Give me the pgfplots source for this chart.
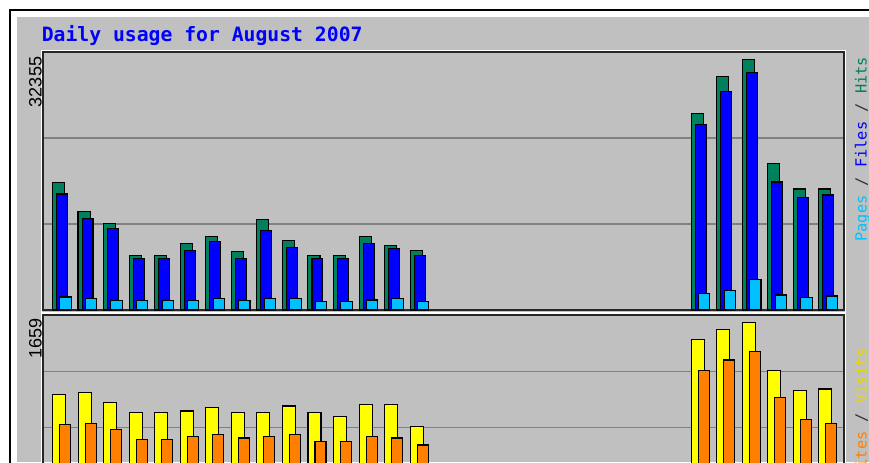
\documentclass[border=0pt]{standalone}
\usepackage{pgfplots}
\pgfplotsset{compat=1.18}
\usepackage{pgfplotstable}
\usepackage{fontspec}
\newfontfamily\monofont{DejaVu Sans Mono}
\newfontfamily\labfont{Liberation Sans}
\definecolor{bggrey}{HTML}{C0C0C0}
\definecolor{gridgrey}{HTML}{808080}
\definecolor{hitsc}{HTML}{00805C}
\definecolor{filesc}{HTML}{0000FF}
\definecolor{pagesc}{HTML}{00C0FF}
\definecolor{visitsc}{HTML}{FFFF00}
\definecolor{sitesc}{HTML}{FF8000}
\definecolor{visitstxt}{HTML}{E8D800}
\definecolor{septxt}{HTML}{303030}

\pgfplotstableread{
day hits files pages visits sites
1 16470 14970 1680 923 610
2 12770 11860 1460 943 627
3 11220 10570 1250 836 559
4 7030 6600 1250 733 453
5 7030 6600 1250 733 453
6 8630 7720 1250 751 490
7 9450 8800 1460 785 507
8 7505 6600 1250 733 473
9 11650 10310 1510 733 490
10 9020 8110 1460 802 507
11 7030 6600 1080 733 435
12 7030 6600 1080 696 435
13 9450 8580 1290 820 490
14 8370 7890 1460 820 473
15 7720 7030 1080 593 401
26 25320 23940 2160 1484 1172
27 30150 28210 2460 1591 1275
28 32355 30630 3970 1659 1361
29 18890 16520 1940 1169 892
30 15620 14530 1590 964 665
31 15620 14840 1810 977 624
}\daily

\pgfplotsset{
  webal/.style={
    scale only axis, width=600.75pt,
    xmin=0.648, xmax=32, ymin=0,
    xtick=\empty, yticklabels={}, major tick length=0pt,
    scaled y ticks=false,
    ymajorgrids, grid style={gridgrey, line width=0.8pt},
    axis line style={black!85, line width=1.1pt},
    ybar,
  },
  wbar/.style={draw=black, line width=0.8pt},
}

\begin{document}
\begin{tikzpicture}[x=0.75pt,y=0.75pt]
\useasboundingbox (0,0) rectangle (869,462);
\clip (0,0) rectangle (869,462);
\fill[white] (0,0) rectangle (869,462);
\fill[bggrey] (17,0) rectangle (869,445);
\draw[black,line width=1.2pt] (10,-5) -- (10,452) -- (875,452);
% white bevel lines
\draw[white,line width=0.9pt] (41.6,462-312.8) rectangle (845.6,462-50.4);
\draw[white,line width=0.9pt] (41.6,-20) rectangle (845.6,462-313.2);

\node[anchor=base west, inner sep=0, text=filesc,
  font=\monofont\bfseries\fontsize{14.8pt}{16pt}\selectfont] at (41.5,462-41.7) {Daily usage for August 2007};

\begin{axis}[webal, at={(32.25pt,114pt)}, anchor=south west,
  height=193.5pt, ymax=33300, ytick={11100,22200}]
\addplot[wbar, fill=hitsc, bar width=0.47, bar shift=0.254] table[x=day,y=hits]{\daily};
\addplot[wbar, fill=filesc, bar width=0.43, bar shift=0.391] table[x=day,y=files]{\daily};
\addplot[wbar, fill=pagesc, bar width=0.446, bar shift=0.528] table[x=day,y=pages]{\daily};
\end{axis}

\begin{axis}[webal, at={(32.25pt,110.25pt)}, anchor=north west,
  height=126.75pt, ymax=1738, ytick={579.3,1158.7}]
\addplot[wbar, fill=visitsc, bar width=0.509, bar shift=0.274] table[x=day,y=visits]{\daily};
\addplot[wbar, fill=sitesc, bar width=0.43, bar shift=0.509] table[x=day,y=sites]{\daily};
\end{axis}

\node[rotate=90, anchor=base east, inner sep=0,
  font=\labfont\fontsize{13.5pt}{15pt}\selectfont] at (41.7,462-56.7) {32355};
\node[rotate=90, anchor=base east, inner sep=0,
  font=\labfont\fontsize{13.5pt}{15pt}\selectfont] at (41.7,462-318) {1659};

\node[rotate=90, anchor=base east, inner sep=0,
  font=\monofont\fontsize{11.5pt}{13pt}\selectfont] at (866.5,462-56.7)
  {\textcolor{pagesc}{Pages}\textcolor{septxt}{~/~}\textcolor{filesc}{Files}\textcolor{septxt}{~/~}\textcolor{hitsc}{Hits}};
\node[rotate=90, anchor=base east, inner sep=0,
  font=\monofont\fontsize{11.5pt}{13pt}\selectfont] at (866.5,462-348)
  {\textcolor{sitesc}{Sites}\textcolor{septxt}{~/~}\textcolor{visitstxt}{Visits}};
\end{tikzpicture}
\end{document}
